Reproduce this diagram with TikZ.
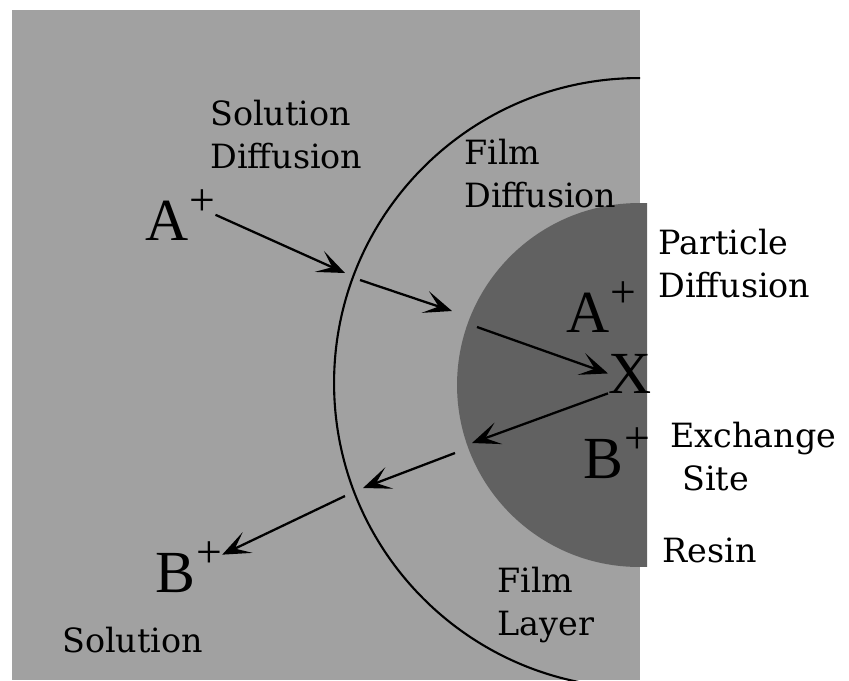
\documentclass[tikz,border=0pt]{standalone}
\usepackage{fontspec}
\setmainfont{DejaVu Serif}
\newfontfamily\ionfont{Liberation Serif}
\usepackage{tikz}
\usetikzlibrary{arrows.meta,positioning,calc}
\newcommand{\chg}{\kern0.5pt\raisebox{14pt}{\fontsize{26}{26}\selectfont+}}

\begin{document}
\begin{tikzpicture}[x=0.02cm, y=-0.02cm,
    lbl/.style={font=\fontsize{19}{24}\selectfont, inner sep=0pt, align=left, anchor=base west},
    ion/.style={font=\ionfont\fontsize{34}{34}\selectfont, inner sep=0pt, anchor=base west},
    flow/.style={line width=1.3pt, -{Stealth[length=16pt, width=13pt, inset=8pt]}}]
    \useasboundingbox (0,0) rectangle (849,680);

    % solution and film
    \fill[black!37] (12,10) rectangle (640,680);
    \begin{scope}
        \clip (12,10) rectangle (640,680);
        \draw[line width=1.2pt] (639,383) circle (6.1cm);
    \end{scope}

    % resin particle
    \begin{scope}
        \clip (400,150) rectangle (647,620);
        \fill[black!62] (639,385) circle (3.64cm);
    \end{scope}

    % labels (anchored at the last line)
    \node[lbl] (soldiff) at (210,168) {Solution\\Diffusion};
    \node[lbl] (filmdiff) at (464,207) {Film\\Diffusion};
    \node[lbl] (partdiff) at (658,297) {Particle\\Diffusion};
    \node[lbl] (exsite) at (670,490) {Exchange\\\hspace*{0.24cm}Site};
    \node[lbl] (resin) at (662,562) {Resin};
    \node[lbl] (filmlay) at (497,635) {Film\\Layer};
    \node[lbl] (sol) at (62,652) {Solution};

    % ions
    \node[ion] (aout) at (145,240) {A\chg};
    \node[ion] (ain) at (566,332) {A\chg};
    \node[ion] (xsite) at (608,393) {X};
    \node[ion] (bin) at (583,478) {B\chg};
    \node[ion] (bout) at (155,592) {B\chg};

    % crossing points
    \coordinate (f1) at (345,273);
    \coordinate (f2) at (360,280);
    \coordinate (r1) at (452,311);
    \coordinate (r2) at (477,327);
    \coordinate (r3) at (472,443);
    \coordinate (r4) at (455,453);
    \coordinate (f3) at (363,488);
    \coordinate (f4) at (345,496);

    \draw[flow] (aout.east) -- (f1);
    \draw[flow] (f2) -- (r1);
    \draw[flow] (r2) -- (xsite.west);
    \draw[flow] (xsite.south west) -- (r3);
    \draw[flow] (r4) -- (f3);
    \draw[flow] (f4) -- (bout.20);
\end{tikzpicture}
\end{document}
